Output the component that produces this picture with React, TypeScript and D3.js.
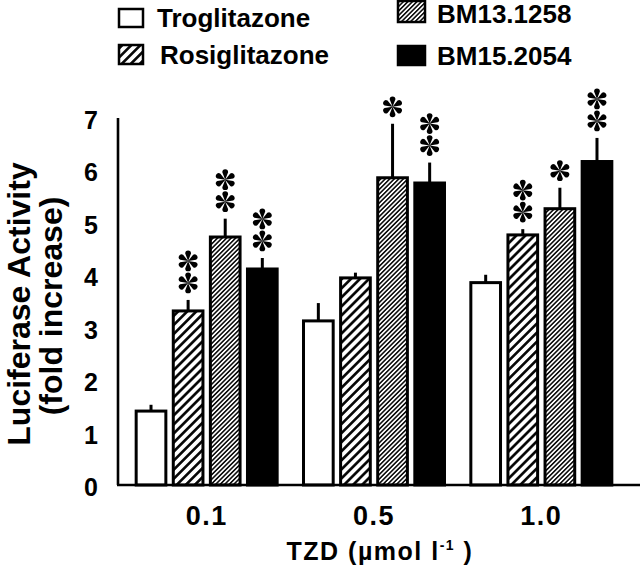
import React from "react";
import * as d3 from "d3";

const groups = ["0.1", "0.5", "1.0"];
const series = ["Troglitazone", "Rosiglitazone", "BM13.1258", "BM15.2054"];
const troglitazone = [1.41, 3.13, 3.86];
const rosiglitazone = [3.32, 3.95, 4.77];
const bm13 = [4.73, 5.86, 5.27];
const bm15 = [4.12, 5.76, 6.17];
const troglitazoneErr = [0.12, 0.34, 0.15];
const rosiglitazoneErr = [0.21, 0.1, 0.11];
const bm13Err = [0.35, 1.03, 0.4];
const bm15Err = [0.21, 0.39, 0.45];
const troglitazoneStars = [0, 0, 0];
const rosiglitazoneStars = [2, 0, 2];
const bm13Stars = [2, 1, 1];
const bm15Stars = [2, 2, 2];
const yTicks = [0, 1, 2, 3, 4, 5, 6, 7];

const values = [troglitazone, rosiglitazone, bm13, bm15];
const errs = [troglitazoneErr, rosiglitazoneErr, bm13Err, bm15Err];
const stars = [troglitazoneStars, rosiglitazoneStars, bm13Stars, bm15Stars];
const fills = ["#fff", "url(#hatchWide)", "url(#hatchDense)", "#000"];

const asteriskType = {
  draw(ctx: any, size: number) {
    const r = Math.sqrt(size) / 2;
    for (let k = 0; k < 6; k++) {
      const a = (k * Math.PI) / 3;
      const dx = Math.sin(a), dy = -Math.cos(a);
      const px = Math.cos(a), py = Math.sin(a);
      const rr = r * 0.28;
      const cx = dx * r * 0.72, cy = dy * r * 0.72;
      ctx.moveTo(0, 0);
      ctx.lineTo(cx + px * rr, cy + py * rr);
      ctx.arc(cx, cy, rr, a, a - Math.PI, true);
      ctx.closePath();
    }
  },
};

export default function App() {
  const W = 640, H = 568;
  const y = d3.scaleLinear().domain([0, 7]).range([485, 118]);
  const x0 = d3.scaleBand().domain(groups).range([123, 625]).padding(0);
  const x1 = d3
    .scaleBand()
    .domain(series)
    .range([0, x0.bandwidth()])
    .paddingInner(0.2)
    .paddingOuter(0.355);
  const star = d3.symbol().type(asteriskType as any).size(430);
  const font = "'Liberation Sans', Arial, sans-serif";

  const legend = [
    { i: 0, bx: 119, by: 9, bw: 24, bh: 18, tx: 157, ty: 27 },
    { i: 1, bx: 119, by: 45, bw: 24, bh: 19, tx: 160, ty: 64 },
    { i: 2, bx: 398, by: 1, bw: 27, bh: 21, tx: 437, ty: 23 },
    { i: 3, bx: 398, by: 46, bw: 27, bh: 19, tx: 437, ty: 65 },
  ];

  return (
    <svg
      width={W}
      height={H}
      style={{ position: "absolute", left: 0, top: 0, background: "#fff" }}
      fontFamily={font}
    >
      <defs>
        <pattern
          id="hatchWide"
          patternUnits="userSpaceOnUse"
          width={6.4}
          height={6.4}
          patternTransform="rotate(45)"
        >
          <rect width={6.4} height={6.4} fill="#fff" />
          <line x1={3.2} y1={0} x2={3.2} y2={6.4} stroke="#000" strokeWidth={2.6} />
        </pattern>
        <pattern
          id="hatchDense"
          patternUnits="userSpaceOnUse"
          width={3.2}
          height={3.2}
          patternTransform="rotate(45)"
        >
          <rect width={3.2} height={3.2} fill="#fff" />
          <line x1={1.6} y1={0} x2={1.6} y2={3.2} stroke="#000" strokeWidth={1.5} />
        </pattern>
      </defs>
      <rect width={W} height={H} fill="#fff" />

      {/* legend */}
      {legend.map((l) => (
        <g key={l.i}>
          <rect
            x={l.bx}
            y={l.by}
            width={l.bw}
            height={l.bh}
            fill={fills[l.i]}
            stroke="#000"
            strokeWidth={2.5}
          />
          <text x={l.tx} y={l.ty} fontSize={26} fontWeight="bold">
            {series[l.i]}
          </text>
        </g>
      ))}

      {/* bars */}
      {groups.map((g, gi) => (
        <g key={g} transform={`translate(${x0(g)},0)`}>
          {series.map((s, si) => {
            const v = values[si][gi];
            const bx = x1(s)!;
            const bw = x1.bandwidth();
            const top = y(v);
            const errTop = y(v + errs[si][gi]);
            const cx = bx + bw / 2;
            const n = stars[si][gi];
            return (
              <g key={s}>
                <line x1={cx} x2={cx} y1={top} y2={errTop} stroke="#000" strokeWidth={3} />
                <rect
                  x={bx}
                  y={top}
                  width={bw}
                  height={y(0) - top}
                  fill={fills[si]}
                  stroke="#000"
                  strokeWidth={3}
                />
                {d3.range(n).map((k) => (
                  <path
                    key={k}
                    d={star()!}
                    transform={`translate(${cx},${errTop - 17 - k * 22})`}
                    fill="#000"
                  />
                ))}
              </g>
            );
          })}
        </g>
      ))}

      {/* axes */}
      <line x1={118} x2={118} y1={y(7)} y2={y(0)} stroke="#000" strokeWidth={2.6} />
      <line x1={117} x2={640} y1={y(0)} y2={y(0)} stroke="#000" strokeWidth={2.6} />
      {yTicks.map((t) => (
        <text
          key={t}
          x={98}
          y={y(t) + 11}
          textAnchor="end"
          fontSize={25}
          fontWeight="bold"
        >
          {t}
        </text>
      ))}
      {groups.map((g) => (
        <text
          key={g}
          x={x0(g)! + x0.bandwidth() / 2}
          y={525}
          textAnchor="middle"
          fontSize={27}
          fontWeight="bold"
          letterSpacing={1.5}
        >
          {g}
        </text>
      ))}
      <text x={380} y={560} textAnchor="middle" fontSize={25} fontWeight="bold" letterSpacing={1.5}>
        TZD (µmol l
        <tspan fontSize={14} dy={-10}>-1</tspan>
        <tspan dy={10}> )</tspan>
      </text>

      {/* y title */}
      <g transform="translate(30,304) rotate(-90)">
        <text textAnchor="middle" fontSize={32} fontWeight="bold">
          Luciferase Activity
        </text>
      </g>
      <g transform="translate(62,306) rotate(-90)">
        <text textAnchor="middle" fontSize={32} fontWeight="bold">
          (fold increase)
        </text>
      </g>
    </svg>
  );
}
